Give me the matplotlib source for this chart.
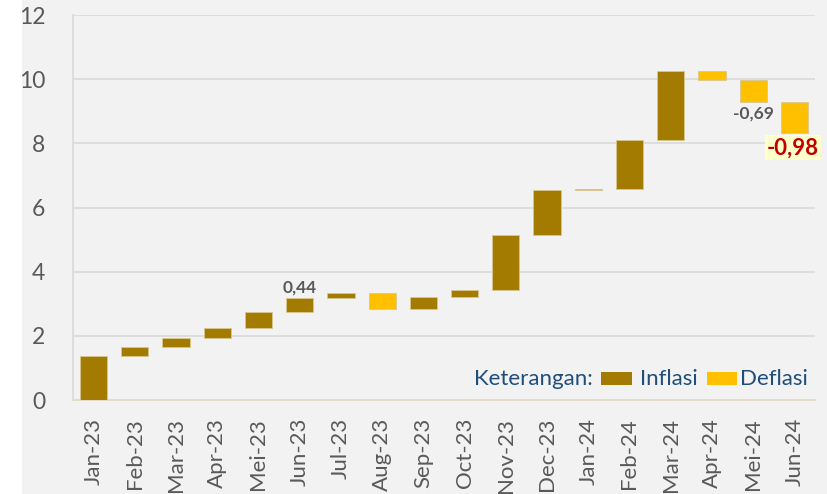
import matplotlib.pyplot as plt
from matplotlib.patches import Rectangle

months = ['Jan-23', 'Feb-23', 'Mar-23', 'Apr-23', 'Mei-23', 'Jun-23',
          'Jul-23', 'Aug-23', 'Sep-23', 'Oct-23', 'Nov-23', 'Dec-23',
          'Jan-24', 'Feb-24', 'Mar-24', 'Apr-24', 'Mei-24', 'Jun-24']
# monthly change (mtm), waterfall stacks them
change = [1.38, 0.26, 0.29, 0.31, 0.49, 0.44,
          0.18, -0.51, 0.36, 0.22, 1.72, 1.42,
          0.02, 1.53, 2.16, -0.29, -0.69, -0.98]
yticks = [0, 2, 4, 6, 8, 10, 12]

INF = '#a37b00'
DEF = '#ffc000'
BG = '#f2f2f2'
TXT = '#595959'
NAVY = '#1f4e79'


def main():
    plt.rcParams['font.family'] = ['Lato', 'DejaVu Sans']

    fig = plt.figure(figsize=(8.28, 4.94), dpi=100, facecolor=BG)
    # white strip on the left edge
    fig.patches.append(Rectangle((0, 0), 22 / 828, 1, transform=fig.transFigure,
                                 facecolor='white', edgecolor='none', zorder=-1))
    ax = fig.add_axes([73 / 828, 1 - 400 / 494, 742 / 828, 385 / 494])
    ax.set_facecolor(BG)

    bottoms = []
    heights = []
    colors = []
    level = 0.0
    for c in change:
        if c >= 0:
            bottoms.append(level)
        else:
            bottoms.append(level + c)
        heights.append(abs(c))
        colors.append(INF if c >= 0 else DEF)
        level += c

    x = list(range(len(months)))
    ax.bar(x, heights, bottom=bottoms, width=0.66, color=colors,
           edgecolor='#d8c890', linewidth=0.6, zorder=3)

    # data labels
    i = months.index('Jun-23')
    ax.text(i, bottoms[i] + heights[i] + 0.1, '0,44', ha='center', va='bottom',
            fontsize=12.5, fontweight='bold', color=TXT, zorder=4)
    i = months.index('Mei-24')
    ax.text(i, bottoms[i] - 0.12, '-0,69', ha='center', va='top',
            fontsize=12.5, fontweight='bold', color=TXT, zorder=4)
    i = months.index('Jun-24')
    ax.text(i - 0.03, bottoms[i] - 0.12, '-0,98', ha='center', va='top',
            fontsize=16, fontweight='bold', color='#c00000', zorder=4,
            bbox=dict(boxstyle='square,pad=0.1', facecolor='#ffffcc', edgecolor='none'))

    ax.set_xlim(-0.5, len(months) - 0.5)
    ax.set_ylim(0, 12)
    ax.set_yticks(yticks)
    ax.set_yticklabels([str(v) for v in yticks], fontsize=16.5, color=TXT)
    ax.set_xticks(x)
    ax.set_xticklabels(months, rotation=90, fontsize=16, color=TXT)
    ax.tick_params(axis='both', length=0)
    ax.tick_params(axis='y', pad=20)
    ax.tick_params(axis='x', pad=13)

    ax.grid(axis='y', color='#d9d9d9', linewidth=1.2, zorder=0)
    ax.set_axisbelow(True)
    for s in ['top', 'right']:
        ax.spines[s].set_visible(False)
    ax.spines['left'].set_color('#d9d9d9')
    ax.spines['left'].set_linewidth(1.2)
    ax.spines['bottom'].set_color('#e2dccb')
    ax.spines['bottom'].set_linewidth(1.5)

    # legend ("Keterangan")
    lx = ax.transAxes
    ax.text(0.541, 0.055, 'Keterangan:', transform=lx, ha='left', va='center',
            fontsize=16, color=NAVY)
    ax.add_patch(Rectangle((0.712, 0.039), 0.041, 0.034, transform=lx,
                           facecolor=INF, edgecolor='none', zorder=4))
    ax.text(0.764, 0.055, 'Inflasi', transform=lx, ha='left', va='center',
            fontsize=16, color=NAVY)
    ax.add_patch(Rectangle((0.854, 0.039), 0.041, 0.034, transform=lx,
                           facecolor=DEF, edgecolor='none', zorder=4))
    ax.text(0.899, 0.055, 'Deflasi', transform=lx, ha='left', va='center',
            fontsize=16, color=NAVY)

    fig.savefig('out.png', dpi=100, facecolor=BG)


if __name__ == '__main__':
    main()
